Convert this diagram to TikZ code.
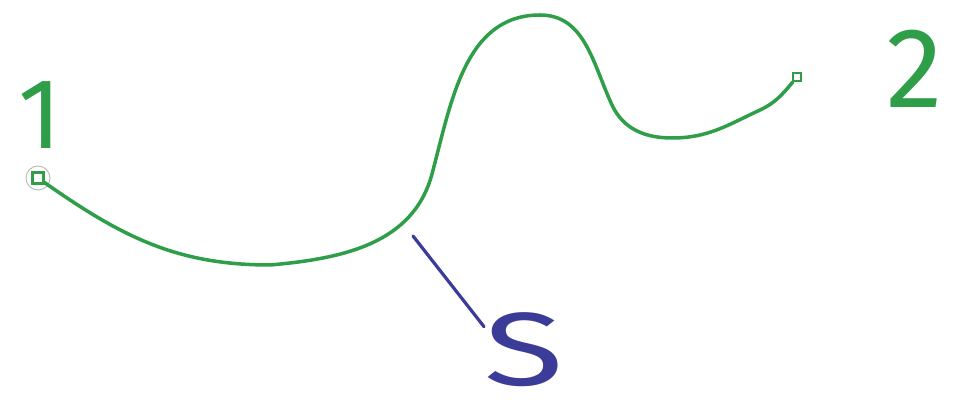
\documentclass[tikz,border=0pt]{standalone}
\usepackage{fontspec}
\usepackage{tikz}
\usetikzlibrary{
  calc,
  positioning
}
\newfontfamily\handfont{Fira Sans}
\definecolor{penGreen}{HTML}{2E9E48}
\definecolor{penBlue}{HTML}{3B3B98}
\tikzset{
  pathline/.style={draw=penGreen, line width=3.5pt, line cap=round, line join=round},
  pointer/.style={draw=penBlue, line width=3.2pt, line cap=round},
  endmark/.style={rectangle, draw=penGreen, line width=2.2pt, inner sep=0pt, minimum width=#1, minimum height=#1},
  endmark/.default=9pt,
  greenlabel/.style={text=penGreen, font=\handfont\fontsize{100}{100}\selectfont, inner sep=0pt},
  bluelabel/.style={text=penBlue, font=\handfont\fontsize{104}{104}\selectfont, inner sep=0pt}
}

\begin{document}
\begin{tikzpicture}[x=1pt, y=1pt]

\useasboundingbox[fill=white] (0,0) rectangle (967,414);

% End points of the path
\node[endmark=11pt] (p1) at (38,236) {};
\draw[gray!50, line width=1pt] (p1) circle (12pt);
\node[endmark=8pt] (p2) at (797,337) {};

% Labels
\node[greenlabel] (one) at (40,299) {1};
\node[greenlabel, font=\handfont\fontsize{114}{114}\selectfont] (two) at (915,345) {2};
\node[bluelabel, transform shape, xscale=1.4] (s) at (524,64) {S};

% Way points of the curve
\coordinate (low) at (270,149);
\coordinate (rise) at (432,240);
\coordinate (peak) at (540,399);
\coordinate (fall) at (612,309);
\coordinate (dip) at (672,276);
\coordinate (climb) at (760,304);

% The path from 1 to 2
\draw[pathline] (p1) to[out=-35, in=180] (low)
  to[out=5, in=-105] (rise)
  to[out=75, in=180] (peak)
  to[out=0, in=115] (fall)
  to[out=-65, in=180] (dip)
  to[out=0, in=-155] (climb)
  to[out=25, in=-130] (p2);

% Pointer from S to the curve
\coordinate (hit) at (413,178);
\draw[pointer] (hit) -- ($(s.north west)+(0,-14)$);

\end{tikzpicture}
\end{document}
